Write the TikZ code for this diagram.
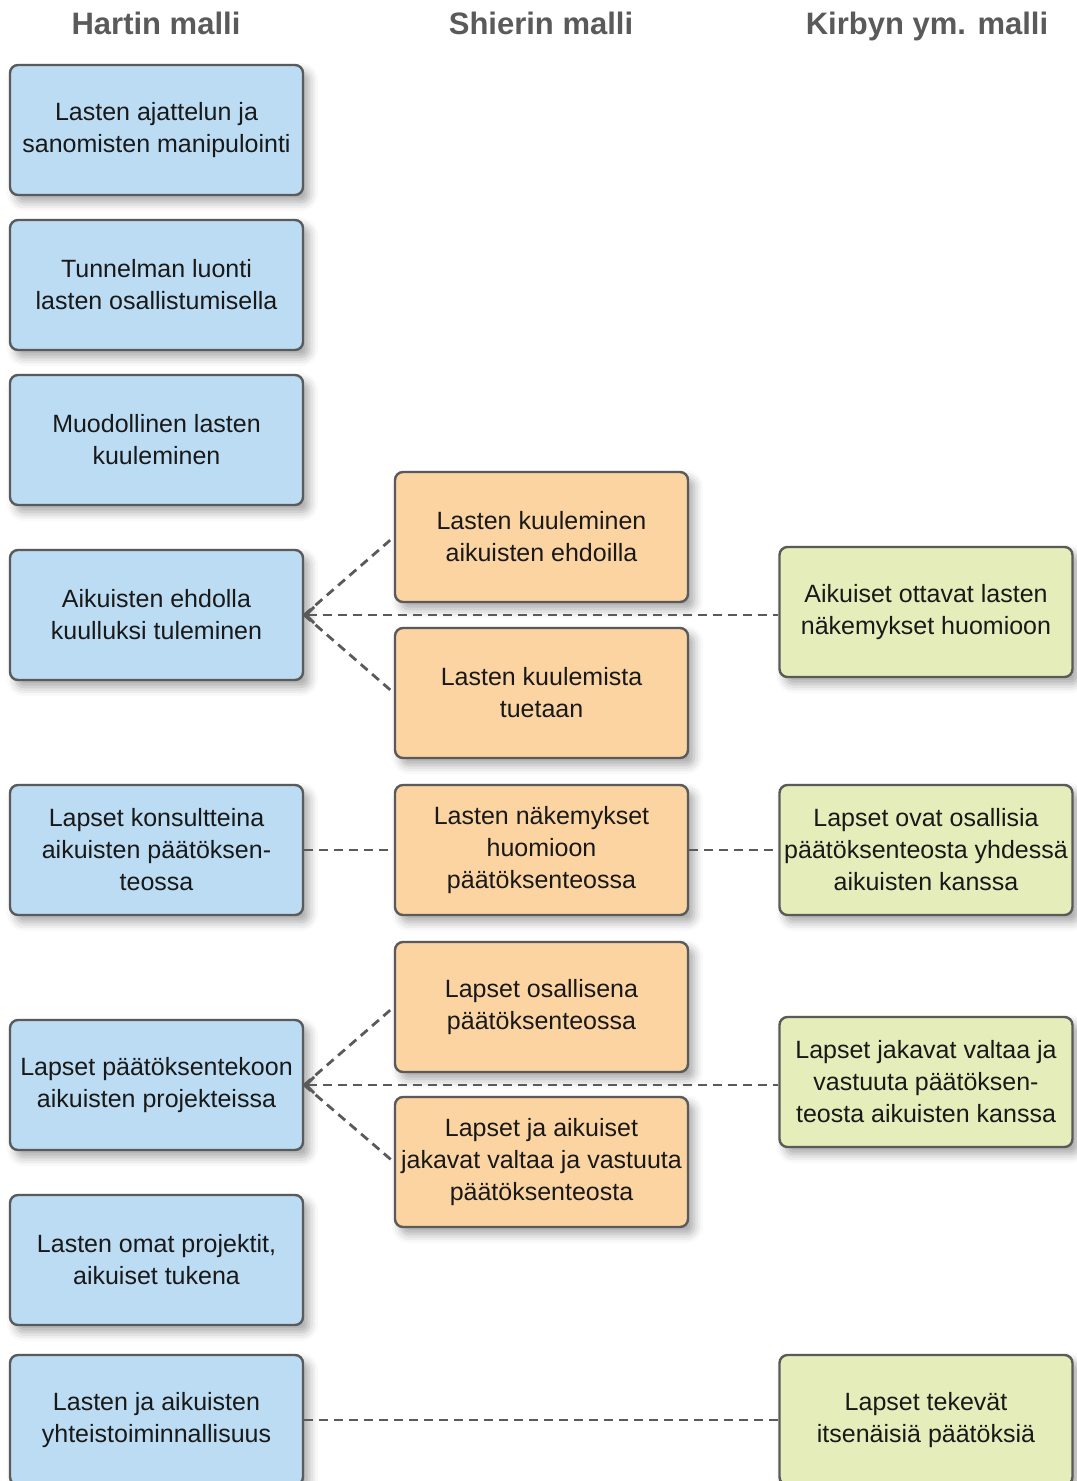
\documentclass[tikz,border=0pt]{standalone}
\usepackage{fontspec}
\setmainfont{Liberation Sans}
\usetikzlibrary{arrows.meta,shadows.blur}
\definecolor{hartfill}{HTML}{BBDCF3}
\definecolor{shierfill}{HTML}{FBD4A2}
\definecolor{kirbyfill}{HTML}{E5EDBB}
\definecolor{rim}{HTML}{5A5A5A}
\begin{document}
\begin{tikzpicture}[x=0.5pt,y=-0.5pt]
\tikzstyle{box}=[draw=rim,line width=1.2pt,rounded corners=4pt,minimum width=146.5pt,minimum height=65pt,align=center,inner sep=2pt,font=\fontsize{12.5}{16}\selectfont,text=black!90,blur shadow={shadow xshift=3pt,shadow yshift=-3.5pt,shadow blur radius=4.5pt,shadow opacity=35}]
\tikzstyle{hart}=[box,fill=hartfill]
\tikzstyle{shier}=[box,fill=shierfill]
\tikzstyle{kirby}=[box,fill=kirbyfill]
\tikzstyle{head}=[anchor=base,font=\fontsize{15.5}{18}\selectfont\bfseries,text=rim]
\tikzstyle{conn}=[draw=rim,line width=1.4pt,dash pattern=on 4.5pt off 3pt]
\useasboundingbox (0,0) rectangle (1076,1481);
% column heads
\node [head] (t1) at (156,35) {Hartin malli};
\node [head] (t2) at (541,35) {Shierin malli};
\node [head] (t3) at (927,35) {Kirbyn ym. malli};
% Hart
\node [hart] (h1) at (156.5,130) {Lasten ajattelun ja\\sanomisten manipulointi};
\node [hart] (h2) at (156.5,285) {Tunnelman luonti\\lasten osallistumisella};
\node [hart] (h3) at (156.5,440) {Muodollinen lasten\\kuuleminen};
\node [hart] (h4) at (156.5,615) {Aikuisten ehdolla\\kuulluksi tuleminen};
\node [hart] (h5) at (156.5,850) {Lapset konsultteina\\aikuisten päätöksen-\\teossa};
\node [hart] (h6) at (156.5,1085) {Lapset päätöksentekoon\\aikuisten projekteissa};
\node [hart] (h7) at (156.5,1260) {Lasten omat projektit,\\aikuiset tukena};
\node [hart] (h8) at (156.5,1420) {Lasten ja aikuisten\\yhteistoiminnallisuus};
% Shier
\node [shier] (s1) at (541.5,537) {Lasten kuuleminen\\aikuisten ehdoilla};
\node [shier] (s2) at (541.5,693) {Lasten kuulemista\\tuetaan};
\node [shier] (s3) at (541.5,850) {Lasten näkemykset\\huomioon\\päätöksenteossa};
\node [shier] (s4) at (541.5,1007) {Lapset osallisena\\päätöksenteossa};
\node [shier] (s5) at (541.5,1162) {Lapset ja aikuiset\\jakavat valtaa ja vastuuta\\päätöksenteosta};
% Kirby
\node [kirby] (k1) at (926,612) {Aikuiset ottavat lasten\\näkemykset huomioon};
\node [kirby] (k2) at (926,850) {Lapset ovat osallisia\\päätöksenteosta yhdessä\\aikuisten kanssa};
\node [kirby] (k3) at (926,1082) {Lapset jakavat valtaa ja\\vastuuta päätöksen-\\teosta aikuisten kanssa};
\node [kirby] (k4) at (926,1420) {Lapset tekevät\\itsenäisiä päätöksiä};
% links
\draw [conn] (h4.east) -- (s1.west);
\draw [conn] (h4.east) -- (s2.west);
\draw [conn,{Straight Barb[length=4pt,width=8pt]}-] (h4.east) -- (h4.east -| k1.west);
\draw [conn] (h5.east) -- (s3.west);
\draw [conn] (s3.east) -- (k2.west);
\draw [conn] (h6.east) -- (s4.west);
\draw [conn] (h6.east) -- (s5.west);
\draw [conn,{Straight Barb[length=4pt,width=8pt]}-] (h6.east) -- (h6.east -| k3.west);
\draw [conn] (h8.east) -- (k4.west);
\end{tikzpicture}
\end{document}
